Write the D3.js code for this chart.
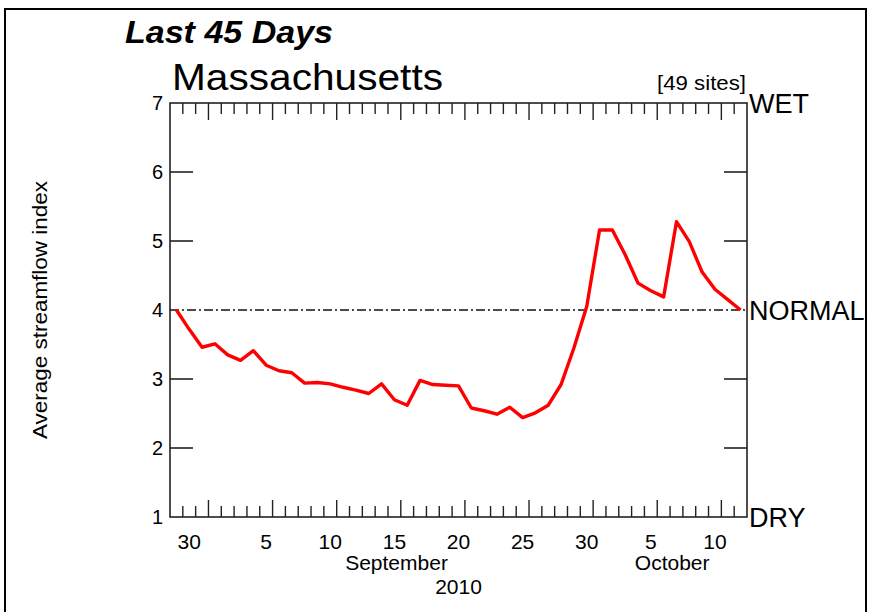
<!DOCTYPE html>
<html>
<head>
<meta charset="utf-8">
<script src="https://cdn.jsdelivr.net/npm/d3@7"></script>
<style>
  body { margin: 0; background: #fff; }
  svg { display: block; font-family: "Liberation Sans", Arial, sans-serif; }
</style>
</head>
<body>
<div id="chart"></div>
<script>
// daily values, Aug 29 - Oct 12 2010
const days = [
  "2010-08-29","2010-08-30","2010-08-31","2010-09-01","2010-09-02","2010-09-03","2010-09-04","2010-09-05",
  "2010-09-06","2010-09-07","2010-09-08","2010-09-09","2010-09-10","2010-09-11","2010-09-12","2010-09-13",
  "2010-09-14","2010-09-15","2010-09-16","2010-09-17","2010-09-18","2010-09-19","2010-09-20","2010-09-21",
  "2010-09-22","2010-09-23","2010-09-24","2010-09-25","2010-09-26","2010-09-27","2010-09-28","2010-09-29",
  "2010-09-30","2010-10-01","2010-10-02","2010-10-03","2010-10-04","2010-10-05","2010-10-06","2010-10-07",
  "2010-10-08","2010-10-09","2010-10-10","2010-10-11","2010-10-12"
];
const streamIndex = [
  4.00, 3.72, 3.46, 3.51, 3.35, 3.27, 3.41, 3.20,
  3.12, 3.09, 2.94, 2.95, 2.93, 2.88, 2.84, 2.79,
  2.93, 2.70, 2.62, 2.98, 2.92, 2.91, 2.90, 2.58,
  2.54, 2.49, 2.59, 2.44, 2.51, 2.62, 2.92, 3.45,
  4.05, 5.16, 5.16, 4.80, 4.39, 4.28, 4.19, 5.28,
  4.99, 4.55, 4.30, 4.15, 4.00
];
const dayTickDates = ["2010-08-30","2010-09-05","2010-09-10","2010-09-15","2010-09-20","2010-09-25","2010-09-30","2010-10-05","2010-10-10"];
const dayTickLabels = ["30","5","10","15","20","25","30","5","10"];
const monthLabels = ["September","October"];
const monthLabelDates = ["2010-09-15T16:00","2010-10-07T04:00"];
const yearLabel = "2010";
const yearLabelDate = "2010-09-20T12:00";
const yTicks = [1,2,3,4,5,6,7];
const sideLabels = ["DRY","NORMAL","WET"];
const sideValues = [1,4,7];

const W = 874, H = 612;
const margin = { top: 103, right: 127, bottom: 95, left: 170 },
    width = W - margin.left - margin.right,
    height = H - margin.top - margin.bottom;

const parse = d3.utcParse("%Y-%m-%d");
const parseT = d3.utcParse("%Y-%m-%dT%H:%M");

const x = d3.scaleUtc()
    .domain([parse("2010-08-29"), parse("2010-10-13")])
    .range([0, width]);
const y = d3.scaleLinear()
    .domain([1, 7])
    .range([height, 0]);

const svg = d3.select("#chart").append("svg")
    .attr("width", W)
    .attr("height", H);

// outer frame
svg.append("rect")
    .attr("x", 5).attr("y", 9)
    .attr("width", 861).attr("height", 640)
    .attr("fill", "none")
    .attr("stroke", "#000")
    .attr("stroke-width", 2);

svg.append("text")
    .text("Last 45 Days")
    .attr("x", 125).attr("y", 43)
    .attr("font-size", 31)
    .attr("font-weight", "bold")
    .attr("font-style", "italic")
    .attr("textLength", 208)
    .attr("lengthAdjust", "spacingAndGlyphs");

svg.append("text")
    .text("Massachusetts")
    .attr("x", 172).attr("y", 90)
    .attr("font-size", 37)
    .attr("textLength", 271)
    .attr("lengthAdjust", "spacingAndGlyphs");

svg.append("text")
    .text("[49 sites]")
    .attr("x", 746).attr("y", 90)
    .attr("text-anchor", "end")
    .attr("font-size", 20)
    .attr("textLength", 89)
    .attr("lengthAdjust", "spacingAndGlyphs");

svg.append("text")
    .text("Average streamflow index")
    .attr("transform", "translate(47,310) rotate(-90)")
    .attr("text-anchor", "middle")
    .attr("font-size", 20)
    .attr("textLength", 258)
    .attr("lengthAdjust", "spacingAndGlyphs");

const g = svg.append("g")
    .attr("transform", "translate(" + margin.left + "," + margin.top + ")");

// frame of the plot
g.append("rect")
    .attr("width", width).attr("height", height)
    .attr("fill", "none")
    .attr("stroke", "#222")
    .attr("stroke-width", 1.6);

// day ticks top and bottom
const tickDays = d3.utcDay.range(d3.utcDay.offset(x.domain()[0], 1), x.domain()[1]);
tickDays.forEach((d, i) => {
    const len = ((i + 1) % 5 === 3) ? 17 : 11;
    const px = x(d);
    g.append("line").attr("x1", px).attr("x2", px).attr("y1", height).attr("y2", height - len)
        .attr("stroke", "#222").attr("stroke-width", 1.4);
    g.append("line").attr("x1", px).attr("x2", px).attr("y1", 0).attr("y2", len)
        .attr("stroke", "#222").attr("stroke-width", 1.4);
});

// value ticks left and right
yTicks.filter(v => v !== 1 && v !== 4 && v !== 7).forEach(v => {
    g.append("line").attr("x1", 0).attr("x2", 23).attr("y1", y(v)).attr("y2", y(v))
        .attr("stroke", "#222").attr("stroke-width", 1.6);
    g.append("line").attr("x1", width - 23).attr("x2", width).attr("y1", y(v)).attr("y2", y(v))
        .attr("stroke", "#222").attr("stroke-width", 1.6);
});

g.selectAll(".ylab")
    .data(yTicks)
    .enter().append("text")
    .attr("class", "ylab")
    .attr("x", -7)
    .attr("y", d => y(d) + 7)
    .attr("text-anchor", "end")
    .attr("font-size", 20)
    .text(d => d);

g.selectAll(".side")
    .data(sideLabels)
    .enter().append("text")
    .attr("class", "side")
    .attr("x", width + 2)
    .attr("y", (d, i) => y(sideValues[i]) + 10)
    .attr("font-size", 27)
    .text(d => d);

// x labels
g.selectAll(".xlab")
    .data(dayTickLabels)
    .enter().append("text")
    .attr("class", "xlab")
    .attr("x", (d, i) => x(d3.utcHour.offset(parse(dayTickDates[i]), 12)))
    .attr("y", height + 32)
    .attr("text-anchor", "middle")
    .attr("font-size", 21)
    .text(d => d);

g.selectAll(".mlab")
    .data(monthLabels)
    .enter().append("text")
    .attr("class", "mlab")
    .attr("x", (d, i) => x(parseT(monthLabelDates[i])))
    .attr("y", height + 53)
    .attr("text-anchor", "middle")
    .attr("font-size", 21)
    .text(d => d);

g.append("text")
    .attr("x", x(parseT(yearLabelDate)))
    .attr("y", height + 77)
    .attr("text-anchor", "middle")
    .attr("font-size", 21)
    .text(yearLabel);

// normal line
g.append("line")
    .attr("x1", 0).attr("x2", width)
    .attr("y1", y(4)).attr("y2", y(4))
    .attr("stroke", "#111")
    .attr("stroke-width", 1.3)
    .attr("stroke-dasharray", "9,3,2,3");

const data = days.map((d, i) => ({ date: d3.utcHour.offset(parse(d), 12), value: streamIndex[i] }));

const line = d3.line()
    .x(d => x(d.date))
    .y(d => y(d.value));

g.append("path")
    .datum(data)
    .attr("d", line)
    .attr("fill", "none")
    .attr("stroke", "#ff0000")
    .attr("stroke-width", 3.4)
    .attr("stroke-linejoin", "round");
</script>
</body>
</html>
